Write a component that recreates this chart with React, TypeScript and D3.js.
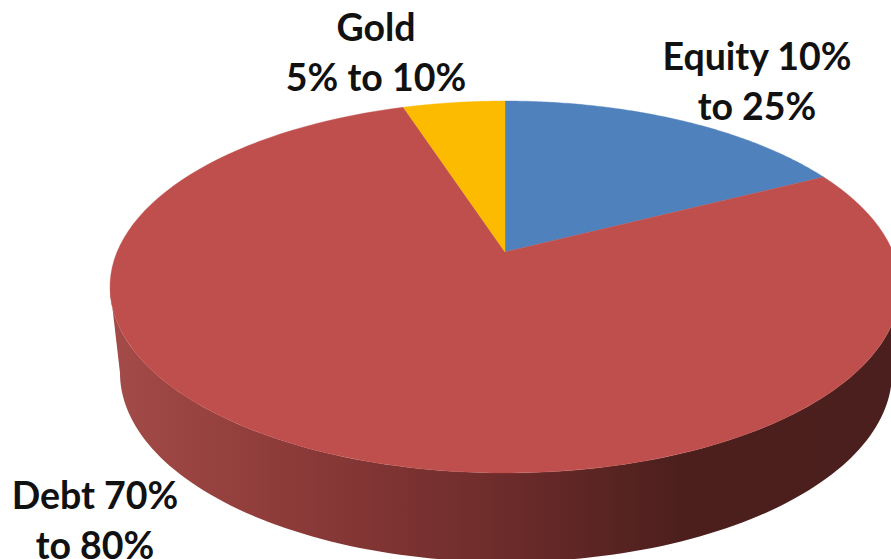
import React from "react";
import * as d3 from "d3";

// Allocation shares (midpoints of the stated ranges, normalised to the full disc)
const assetNames = ["Equity", "Debt", "Gold"];
const assetShares = [17.5, 77.5, 5];
const assetColors = ["#4f81bd", "#bf4f4c", "#fdbb00"];

const labelLines = [
  { lines: ["Gold", "5% to 10%"], x: 376, y: 41 },
  { lines: ["Equity 10%", "to 25%"], x: 757, y: 70 },
  { lines: ["Debt 70%", "to 80%"], x: 95, y: 509 },
];

const wallStops = [
  { x: 110, color: "#a34b48" },
  { x: 300, color: "#8b3a38" },
  { x: 500, color: "#6d2c2b" },
  { x: 680, color: "#4c1f1d" },
  { x: 891, color: "#4b1f1d" },
];

const WIDTH = 891;
const HEIGHT = 559;
const TILT = 0.188; // perspective strength of the tilted disc

type Ellipse = { cx: number; cy: number; rx: number; ry: number };
const topRim: Ellipse = { cx: 505, cy: 287, rx: 395, ry: 186 };
const lowerRim: Ellipse = { cx: 506, cy: 373, rx: 386, ry: 189 };

// Projects an angle on the disc (clockwise from the far side) through a simple perspective
function project(e: Ellipse, angle: number, r = 1): [number, number] {
  const X = r * Math.sin(angle);
  const Y = -r * Math.cos(angle);
  const w = 1 - TILT * Y;
  const a = e.rx * Math.sqrt(1 - TILT * TILT);
  const b = e.ry * (1 - TILT * TILT);
  return [e.cx + (a * X) / w, e.cy - TILT * e.ry + (b * Y) / w];
}

const line = d3.line<[number, number]>();
const arcSteps = (a0: number, a1: number) =>
  d3.range(0, 121).map((i) => a0 + ((a1 - a0) * i) / 120);

const slices = d3
  .pie<number>()
  .sort(null)
  .startAngle(0)
  .endAngle(2 * Math.PI)(assetShares);

function slicePath(start: number, end: number) {
  const pts = [project(topRim, 0, 0), ...arcSteps(start, end).map((t) => project(topRim, t))];
  return line(pts) + "Z";
}

// Near half of the disc edge, between the two points where the rim is widest
function wallPath() {
  const sideOffset = Math.asin(TILT);
  const front = arcSteps(Math.PI / 2 + sideOffset, (3 * Math.PI) / 2 - sideOffset);
  const pts = [
    ...front.map((t) => project(topRim, t)),
    ...front.slice().reverse().map((t) => project(lowerRim, t)),
  ];
  return line(pts) + "Z";
}

export default function App() {
  return (
    <svg
      width={WIDTH}
      height={HEIGHT}
      viewBox={`0 0 ${WIDTH} ${HEIGHT}`}
      style={{ position: "absolute", left: 0, top: 0, background: "#fff" }}
    >
      <defs>
        <linearGradient id="wall" gradientUnits="userSpaceOnUse" x1={0} x2={WIDTH} y1={0} y2={0}>
          {wallStops.map((s) => (
            <stop key={s.x} offset={s.x / WIDTH} stopColor={s.color} />
          ))}
        </linearGradient>
      </defs>
      <path d={wallPath()} fill="url(#wall)" />
      {slices.map((s, i) => (
        <path
          key={assetNames[i]}
          d={slicePath(s.startAngle, s.endAngle)}
          fill={assetColors[i]}
          stroke={assetColors[i]}
          strokeWidth={0.4}
        />
      ))}
      {labelLines.map((l) => (
        <text
          key={l.lines[0]}
          textAnchor="middle"
          fontFamily="Lato, sans-serif"
          fontWeight={700}
          fontSize={37.5}
          fill="#111"
        >
          {l.lines.map((t, i) => (
            <tspan key={t} x={l.x} y={l.y + i * 49.5}>
              {t}
            </tspan>
          ))}
        </text>
      ))}
    </svg>
  );
}
